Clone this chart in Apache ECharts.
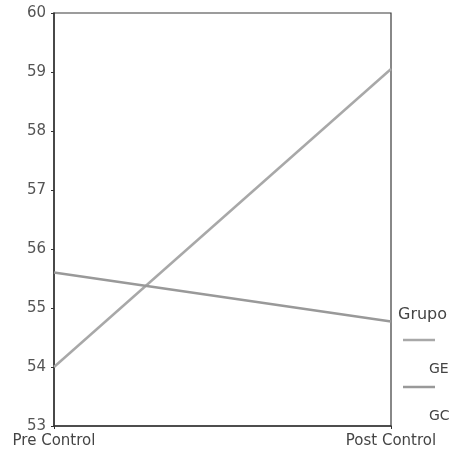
<!DOCTYPE html>
<html>
<head>
<meta charset="utf-8">
<script src="https://cdn.jsdelivr.net/npm/echarts@6/dist/echarts.min.js"></script>
<style>
html, body { margin: 0; padding: 0; background: #fff; }
#chart { width: 462px; height: 456px; }
</style>
</head>
<body>
<div id="chart"></div>
<script>
// momentos de medición
var categories = ['Pre Control', 'Post Control'];
// medias por grupo
var ge = [54.0, 59.05];
var gc = [55.6, 54.77];
var groupNames = ['GE', 'GC'];
var legendTitle = 'Grupo';

var chart = echarts.init(document.getElementById('chart'));
var font = 'DejaVu Sans, sans-serif';

var option = {
    animation: false,
    backgroundColor: '#fff',
    grid: {
        left: 54, right: 71, top: 13, bottom: 30,
        show: true, borderColor: '#3a3a3a', borderWidth: 1.2
    },
    xAxis: {
        type: 'category',
        data: categories,
        boundaryGap: false,
        axisLine: { lineStyle: { color: '#333', width: 1.5 } },
        axisTick: { show: true, length: 3, alignWithLabel: true, lineStyle: { color: '#333' } },
        axisLabel: { color: '#444', fontFamily: font, fontSize: 15, margin: 8 },
        splitLine: { show: false }
    },
    yAxis: {
        type: 'value',
        min: 53, max: 60, interval: 1,
        axisLine: { show: true, lineStyle: { color: '#333', width: 1.5 } },
        axisTick: { show: true, length: 3, lineStyle: { color: '#333' } },
        axisLabel: { color: '#555', fontFamily: font, fontSize: 15, margin: 8 },
        splitLine: { show: false }
    },
    series: [
        {
            name: groupNames[0], type: 'line', data: ge,
            symbol: 'none',
            lineStyle: { color: '#a8a8a8', width: 2.5 }
        },
        {
            name: groupNames[1], type: 'line', data: gc,
            symbol: 'none',
            lineStyle: { color: '#999999', width: 2.5 }
        }
    ],
    graphic: [
        { type: 'text', left: 398, top: 307, style: { text: legendTitle, fill: '#444', font: '16px ' + font } },
        { type: 'line', shape: { x1: 403, y1: 340, x2: 435, y2: 340 }, style: { stroke: '#a8a8a8', lineWidth: 2.5 } },
        { type: 'text', left: 429, top: 362, style: { text: groupNames[0], fill: '#444', font: '14px ' + font } },
        { type: 'line', shape: { x1: 403, y1: 387, x2: 435, y2: 387 }, style: { stroke: '#999999', lineWidth: 2.5 } },
        { type: 'text', left: 429, top: 409, style: { text: groupNames[1], fill: '#444', font: '14px ' + font } }
    ]
};
chart.setOption(option);
</script>
</body>
</html>
